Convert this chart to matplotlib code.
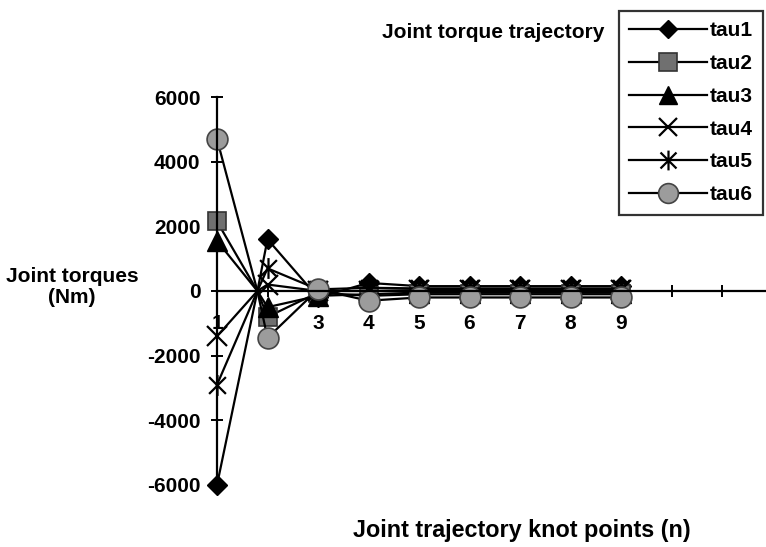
import matplotlib
matplotlib.use("Agg")
import matplotlib.pyplot as plt
from matplotlib.path import Path

plt.rcParams["font.family"] = ["Liberation Sans", "DejaVu Sans"]
plt.rcParams["font.weight"] = "bold"

# Knot positions (the 1.8 entry is the shared zero crossing between knots 1 and 2)
knots = [1, 1.8, 2, 3, 4, 5, 6, 7, 8, 9]
tau1 = [-6000, 0, 1600, -200, 250, 150, 150, 150, 150, 150]
tau2 = [2150, 0, -800, -50, -150, -100, -100, -100, -100, -100]
tau3 = [1550, 0, -500, -150, -100, -50, -50, -50, -50, -50]
tau4 = [-1400, 0, 200, 0, 0, 30, 30, 30, 30, 30]
tau5 = [-2900, 0, 700, 50, 100, 80, 80, 80, 80, 80]
tau6 = [4700, 0, -1450, 50, -300, -200, -200, -200, -200, -200]
series_names = ["tau1", "tau2", "tau3", "tau4", "tau5", "tau6"]

x_ticks = [1, 2, 3, 4, 5, 6, 7, 8, 9, 10, 11]
x_tick_labels = ["1", "", "3", "4", "5", "6", "7", "8", "9", "", ""]
y_ticks = [-6000, -4000, -2000, 0, 2000, 4000, 6000]

FS = 15

# asterisk marker: an X with a vertical stroke
asterisk = Path(
    [(-0.5, -0.5), (0.5, 0.5), (-0.5, 0.5), (0.5, -0.5), (0, -0.62), (0, 0.62)],
    [Path.MOVETO, Path.LINETO, Path.MOVETO, Path.LINETO, Path.MOVETO, Path.LINETO],
)

styles = [
    dict(marker="D", ms=10, mfc="black", mec="black"),
    dict(marker="s", ms=13, mfc="#707070", mec="#333333", mew=1.2),
    dict(marker="^", ms=14, mfc="black", mec="black"),
    dict(marker="x", ms=14, mec="black", mew=1.6),
    dict(marker=asterisk, ms=15, mec="black", mew=1.6),
    dict(marker="o", ms=15, mfc="#9c9c9c", mec="#444444", mew=1.2),
]

W, H = 766, 547
fig = plt.figure(figsize=(W / 100, H / 100), dpi=100)
ax = fig.add_axes([217 / W, (H - 485) / H, (W - 217) / W, (485 - 97) / H])

mark_idx = [i for i in range(len(knots)) if i != 1]
for name, vals, st in zip(series_names, [tau1, tau2, tau3, tau4, tau5, tau6], styles):
    ax.plot(knots, vals, color="black", lw=1.6, markevery=mark_idx,
            clip_on=False, label=name, **st)

ax.set_xlim(1, 11.87)
ax.set_ylim(-6000, 6000)
ax.spines["top"].set_visible(False)
ax.spines["right"].set_visible(False)
ax.spines["bottom"].set_position(("data", 0))
for sp in ("left", "bottom"):
    ax.spines[sp].set_linewidth(1.6)
ax.set_axisbelow(True)

ax.set_xticks(x_ticks)
ax.set_xticklabels(x_tick_labels)
ax.set_yticks(y_ticks)
ax.set_yticklabels([str(v) for v in y_ticks])
ax.tick_params(axis="both", direction="inout", length=9, width=1.4,
               labelsize=FS)
ax.tick_params(axis="x", pad=12)
ax.tick_params(axis="y", pad=7.5)

fig.text(493 / W, 1 - 32 / H, "Joint torque trajectory", ha="center",
         va="center", fontsize=FS, fontweight="bold")
fig.text(72 / W, 1 - 287 / H, "Joint torques\n(Nm)", ha="center",
         va="center", fontsize=FS, fontweight="bold", linespacing=1.15)
fig.text(522 / W, 1 - 530 / H, "Joint trajectory knot points (n)",
         ha="center", va="center", fontsize=16.8, fontweight="bold")

leg = fig.legend(loc="upper right", bbox_to_anchor=(763 / W, 1 - 11 / H),
                 fontsize=FS, frameon=True, fancybox=False, shadow=False,
                 handlelength=3.75, handletextpad=0.1, labelspacing=0.66,
                 borderpad=0.5, borderaxespad=0, markerscale=0.95)
leg.get_frame().set_edgecolor("black")
leg.get_frame().set_linewidth(1.6)

fig.savefig("out.png", dpi=100)
